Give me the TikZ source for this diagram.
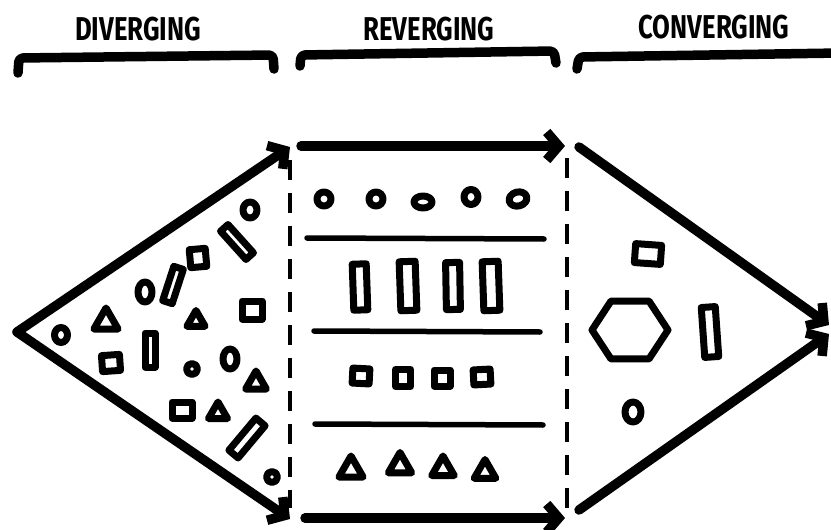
\documentclass[tikz,border=0pt]{standalone}
\usepackage{fontspec}
\newfontfamily\handfont{Fira Sans}
\usetikzlibrary{arrows.meta,shapes.geometric}
\tikzset{
  thickarrow/.style={line width=9.5pt, line cap=round, line join=round, -{Straight Barb[length=12pt,width=28pt]}},
  dashline/.style={line width=3.5pt, dash pattern=on 20pt off 13pt},
  sepline/.style={line width=5.5pt, line cap=round},
  bracketline/.style={line width=9.5pt, line cap=round, line join=round, rounded corners=4pt},
  shp/.style={draw, line width=7pt, line join=round, inner sep=0pt, outer sep=0pt},
  circ/.style={shp, ellipse},
  box/.style={shp, rectangle},
  tri/.style={shp, regular polygon, regular polygon sides=3},
  hexa/.style={shp, regular polygon, regular polygon sides=6},
  title/.style={font=\handfont\bfseries\fontsize{33}{33}\selectfont, inner sep=0pt}
}
\begin{document}
\begin{tikzpicture}[x=1pt,y=-1pt]
\useasboundingbox (0,0) rectangle (831,530);

% headers
\node[title] (hd1) at (138,29) {\scalebox{0.78}[1]{DIVERGING}};
\node[title] (hd2) at (429,29) {\scalebox{0.78}[1]{REVERGING}};
\node[title] (hd3) at (714,27) {\scalebox{0.78}[1]{CONVERGING}};

% brackets
\draw[bracketline] (18,73) -- (19,58) -- (273,55) -- (274,69);
\draw[bracketline] (300,66) -- (301,55) -- (554,51) -- (556,63);
\draw[bracketline] (577,69) -- (579,57) -- (840,53);

% key points
\coordinate (apex) at (17,332);
\coordinate (ltop) at (290,147);
\coordinate (lbot) at (290,519);
\coordinate (mtopA) at (301,146);
\coordinate (mtopB) at (565,146);
\coordinate (mbotA) at (305,518);
\coordinate (mbotB) at (565,518);
\coordinate (rtopA) at (579,147);
\coordinate (rtopB) at (829,325);
\coordinate (rbotA) at (579,510);
\coordinate (rbotB) at (829,334);
\coordinate (d1a) at (290,160);
\coordinate (d1b) at (290,508);
\coordinate (d2a) at (567,158);
\coordinate (d2b) at (567,508);

% arrows
\draw[thickarrow] (apex) -- (ltop);
\draw[thickarrow] (apex) -- (lbot);
\draw[thickarrow] (mtopA) -- (mtopB);
\draw[thickarrow] (mbotA) -- (mbotB);
\draw[thickarrow] (rtopA) -- (rtopB);
\draw[thickarrow] (rbotA) -- (rbotB);

% dashed borders
\draw[dashline] (d1a) -- (d1b);
\draw[dashline] (d2a) -- (d2b);

% separators in middle
\coordinate (s1a) at (307,238); \coordinate (s1b) at (544,239);
\coordinate (s2a) at (314,331); \coordinate (s2b) at (540,332);
\coordinate (s3a) at (315,424); \coordinate (s3b) at (543,425);
\draw[sepline] (s1a) -- (s1b);
\draw[sepline] (s2a) -- (s2b);
\draw[sepline] (s3a) -- (s3b);

% left (diverging) shapes
\node[circ, minimum width=13pt, minimum height=15pt] (l1) at (61,335) {};
\node[tri, minimum size=28pt] (l2) at (106,322) {};
\node[box, minimum width=18pt, minimum height=16pt, rotate=4] (l3) at (111,363) {};
\node[circ, minimum width=14pt, minimum height=20pt] (l4) at (145,292) {};
\node[box, minimum width=10pt, minimum height=36pt, rotate=-18] (l5) at (173,285) {};
\node[box, minimum width=16pt, minimum height=18pt, rotate=5] (l6) at (198,258) {};
\node[box, minimum width=10pt, minimum height=38pt, rotate=42] (l7) at (237,242) {};
\node[circ, minimum width=14pt, minimum height=16pt] (l8) at (250,210) {};
\node[tri, minimum size=21pt] (l9) at (196,321) {};
\node[box, minimum width=10pt, minimum height=34pt] (l10) at (150,350) {};
\node[box, minimum width=20pt, minimum height=18pt] (l11) at (252,310) {};
\node[circ, minimum width=11pt, minimum height=11pt] (l12) at (192,369) {};
\node[circ, minimum width=14pt, minimum height=20pt] (l13) at (230,359) {};
\node[tri, minimum size=24pt] (l14) at (256,383) {};
\node[box, minimum width=20pt, minimum height=16pt] (l15) at (182,410) {};
\node[tri, minimum size=22pt] (l16) at (218,413) {};
\node[box, minimum width=12pt, minimum height=42pt, rotate=-40] (l17) at (247,438) {};
\node[circ, minimum width=11pt, minimum height=11pt] (l18) at (272,477) {};

% middle (reverging) shapes
\node[circ, minimum width=14pt, minimum height=14pt] (c1) at (324,199) {};
\node[circ, minimum width=14pt, minimum height=14pt] (c2) at (376,199) {};
\node[circ, minimum width=18pt, minimum height=12pt] (c3) at (423,202) {};
\node[circ, minimum width=14pt, minimum height=15pt] (c4) at (471,197) {};
\node[circ, minimum width=18pt, minimum height=14pt, rotate=15] (c5) at (518,199) {};

\node[box, minimum width=14pt, minimum height=46pt, rotate=2] (r1) at (360,287) {};
\node[box, minimum width=16pt, minimum height=49pt, rotate=2] (r2) at (408,286) {};
\node[box, minimum width=14pt, minimum height=47pt, rotate=1] (r3) at (453,286) {};
\node[box, minimum width=16pt, minimum height=49pt, rotate=2] (r4) at (491,286) {};

\node[box, minimum width=17pt, minimum height=15pt, rotate=-3] (q1) at (361,376) {};
\node[box, minimum width=15pt, minimum height=17pt] (q2) at (403,378) {};
\node[box, minimum width=16pt, minimum height=16pt] (q3) at (442,378) {};
\node[box, minimum width=17pt, minimum height=15pt, rotate=3] (q4) at (482,377) {};

\node[tri, minimum size=28pt] (t1) at (351,470) {};
\node[tri, minimum size=27pt] (t2) at (400,466) {};
\node[tri, minimum size=26pt] (t3) at (443,469) {};
\node[tri, minimum size=25pt] (t4) at (485,472) {};

% right (converging) shapes
\node[box, minimum width=26pt, minimum height=19pt, rotate=-4] (p1) at (648,254) {};
\node[hexa, minimum size=76pt, yscale=0.88] (p2) at (630,330) {};
\node[box, minimum width=14pt, minimum height=50pt, rotate=4] (p3) at (710,332) {};
\node[circ, minimum width=16pt, minimum height=20pt] (p4) at (633,412) {};
\end{tikzpicture}
\end{document}
